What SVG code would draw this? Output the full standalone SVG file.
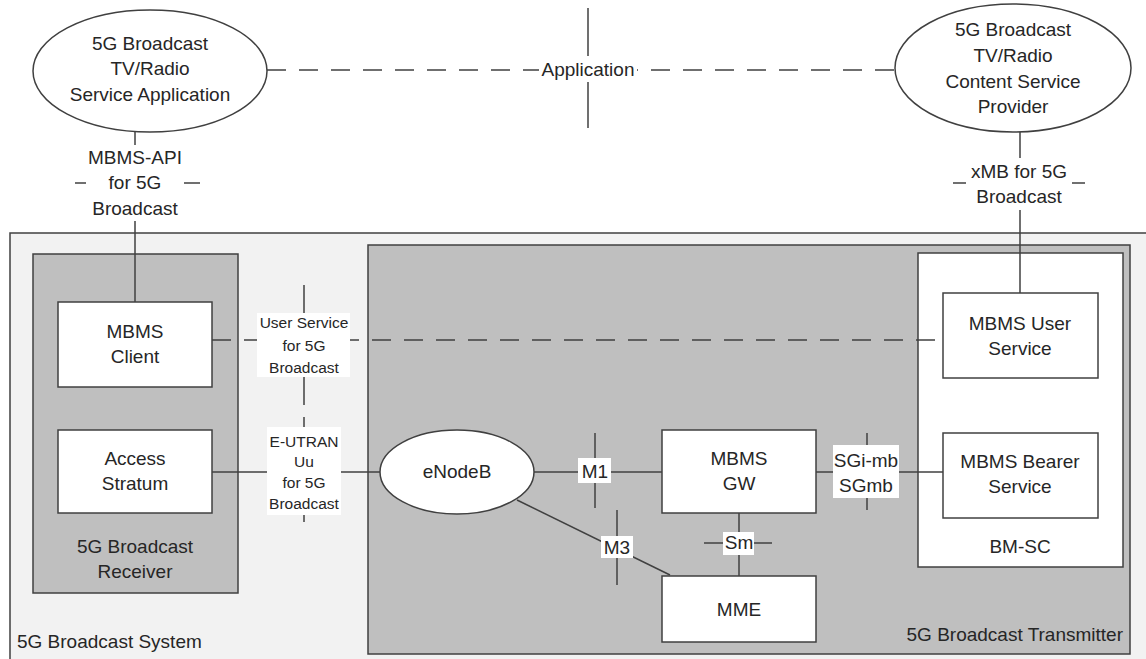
<svg xmlns="http://www.w3.org/2000/svg" width="1146" height="659" viewBox="0 0 1146 659">
<style>
text{font-family:"Liberation Sans",Arial,sans-serif;font-size:19px;fill:#262626;text-anchor:middle}
.s{font-size:15.5px}
.ln{stroke:#404040;stroke-width:1.5;fill:none}
.ds{stroke:#404040;stroke-width:1.5;fill:none;stroke-dasharray:19 13}
.wb{fill:#ffffff;stroke:#404040;stroke-width:1.5}
.gb{fill:#bfbfbf;stroke:#404040;stroke-width:1.5}
.lb{fill:#ffffff;stroke:none}
</style>
<rect width="1146" height="659" fill="#ffffff"/>
<g id="system">
<rect x="10" y="233" width="1150" height="440" fill="#f2f2f2" stroke="#404040" stroke-width="1.5"/>
<text x="17" y="648" style="text-anchor:start">5G Broadcast System</text>
</g>
<g id="receiver">
<rect x="33" y="254" width="205" height="339" class="gb"/>
<text x="135" y="553">5G Broadcast</text>
<text x="135" y="578">Receiver</text>
</g>
<g id="transmitter">
<rect x="368" y="245" width="762" height="409" class="gb"/>
<text x="1123" y="641" style="text-anchor:end">5G Broadcast Transmitter</text>
</g>
<g id="bmsc">
<rect x="918" y="253" width="205" height="314" class="wb"/>
<text x="1020" y="553">BM-SC</text>
</g>
<g id="connectors">
<line x1="267" y1="70" x2="895" y2="70" class="ds"/>
<line x1="588" y1="8" x2="588" y2="128" class="ln"/>
<line x1="135" y1="131" x2="135" y2="302" class="ln"/>
<line x1="75" y1="183" x2="200" y2="183" class="ln"/>
<line x1="1020" y1="132" x2="1020" y2="293" class="ln"/>
<line x1="953" y1="183" x2="1085" y2="183" class="ln"/>
<line x1="212" y1="340" x2="943" y2="340" class="ds"/>
<line x1="304" y1="285" x2="304" y2="405" class="ln"/>
<line x1="304" y1="417" x2="304" y2="522" class="ln"/>
<line x1="212" y1="472" x2="380" y2="472" class="ln"/>
<line x1="534" y1="472" x2="662" y2="472" class="ln"/>
<line x1="595" y1="433" x2="595" y2="508" class="ln"/>
<line x1="517" y1="500" x2="670" y2="575" class="ln"/>
<line x1="617" y1="510" x2="617" y2="585" class="ln"/>
<line x1="739" y1="513" x2="739" y2="576" class="ln"/>
<line x1="704" y1="543" x2="772" y2="543" class="ln"/>
<line x1="816" y1="472" x2="943" y2="472" class="ln"/>
<line x1="867" y1="433" x2="867" y2="510" class="ln"/>
</g>
<g id="labels">
<rect x="539" y="56" width="98" height="26" class="lb"/>
<text x="588" y="76">Application</text>
<rect x="86" y="145" width="98" height="76" class="lb"/>
<text x="135" y="164">MBMS-API</text>
<text x="135" y="189">for 5G</text>
<text x="135" y="215">Broadcast</text>
<rect x="966" y="158" width="106" height="52" class="lb"/>
<text x="1019" y="178">xMB for 5G</text>
<text x="1019" y="203">Broadcast</text>
<rect x="257" y="313" width="93" height="64" class="lb"/>
<text class="s" x="304" y="328">User Service</text>
<text class="s" x="304" y="351">for 5G</text>
<text class="s" x="304" y="373">Broadcast</text>
<rect x="267" y="427" width="74" height="88" class="lb"/>
<text class="s" x="304" y="447">E-UTRAN</text>
<text class="s" x="304" y="467">Uu</text>
<text class="s" x="304" y="488">for 5G</text>
<text class="s" x="304" y="509">Broadcast</text>
<rect x="578" y="458" width="33" height="25" class="lb"/>
<text x="595" y="478">M1</text>
<rect x="601" y="536" width="32" height="22" class="lb"/>
<text x="617" y="554">M3</text>
<rect x="723" y="532" width="31" height="23" class="lb"/>
<text x="739" y="549">Sm</text>
<rect x="833" y="445" width="66" height="53" class="lb"/>
<text x="866" y="467">SGi-mb</text>
<text x="866" y="492">SGmb</text>
</g>
<g id="app-left">
<ellipse cx="150" cy="71" rx="117" ry="61" class="wb"/>
<text x="150" y="50">5G Broadcast</text>
<text x="150" y="75">TV/Radio</text>
<text x="150" y="101">Service Application</text>
</g>
<g id="app-right">
<ellipse cx="1013" cy="68" rx="118" ry="64" class="wb"/>
<text x="1013" y="36">5G Broadcast</text>
<text x="1013" y="62">TV/Radio</text>
<text x="1013" y="88">Content Service</text>
<text x="1013" y="113">Provider</text>
</g>
<g id="mbms-client">
<rect x="58" y="302" width="154" height="85" class="wb"/>
<text x="135" y="338">MBMS</text>
<text x="135" y="363">Client</text>
</g>
<g id="access-stratum">
<rect x="58" y="430" width="154" height="83" class="wb"/>
<text x="135" y="465">Access</text>
<text x="135" y="490">Stratum</text>
</g>
<g id="enodeb">
<ellipse cx="457" cy="472" rx="77" ry="42" class="wb"/>
<text x="457" y="478">eNodeB</text>
</g>
<g id="mbms-gw">
<rect x="662" y="430" width="154" height="83" class="wb"/>
<text x="739" y="465">MBMS</text>
<text x="739" y="490">GW</text>
</g>
<g id="mme">
<rect x="662" y="576" width="154" height="66" class="wb"/>
<text x="739" y="616">MME</text>
</g>
<g id="mbms-user-service">
<rect x="943" y="293" width="155" height="85" class="wb"/>
<text x="1020" y="330">MBMS User</text>
<text x="1020" y="355">Service</text>
</g>
<g id="mbms-bearer-service">
<rect x="943" y="433" width="155" height="85" class="wb"/>
<text x="1020" y="468">MBMS Bearer</text>
<text x="1020" y="493">Service</text>
</g>
</svg>
